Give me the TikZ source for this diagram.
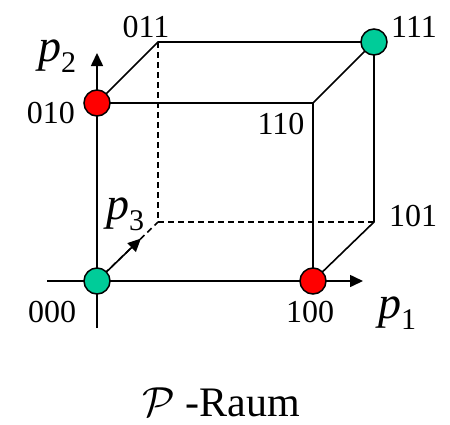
\RequirePackage{fix-cm}
\documentclass[tikz,border=0pt]{standalone}
\usepackage{fontspec}
\setmainfont{Liberation Serif}
\usetikzlibrary{arrows.meta, calc}

\newcommand{\psub}[1]{p\raisebox{-11pt}{\fontsize{30}{30}\selectfont\upshape #1}}

\begin{document}
\begin{tikzpicture}[
    x=1pt, y=-1pt,
    >={Triangle[length=13pt, width=12pt]},
    edge/.style={
        line width=1.6pt,
        draw=black
    },
    hidden/.style={
        edge,
        dash pattern=on 6pt off 4pt
    },
    axis/.style={
        ->,
        line width=1.6pt
    },
    vertex/.style={
        circle,
        draw=black,
        fill=#1,
        line width=1.5pt,
        minimum size=26pt,
        inner sep=0pt
    },
    corner/.style={
        font=\fontsize{32}{32}\selectfont,
        inner sep=0pt,
        anchor=base
    },
    axislabel/.style={
        font=\fontsize{46}{46}\selectfont\itshape,
        inner sep=0pt,
        anchor=base
    }
]

% Colors
\definecolor{green_color}{RGB}{0,204,153}
\definecolor{red_color}{RGB}{255,0,0}

\useasboundingbox (0,0) rectangle (450,424);

% Cube corners
\coordinate (c000) at (97,281);
\coordinate (c100) at (313,281);
\coordinate (c010) at (97,103);
\coordinate (c110) at (313,103);
\coordinate (c001) at (158,222);
\coordinate (c101) at (374,222);
\coordinate (c011) at (158,42);
\coordinate (c111) at (374,42);

% Axes
\coordinate (xstart) at (47,281);
\coordinate (xend) at (363,281);
\coordinate (ystart) at (97,328);
\coordinate (yend) at (97,53);
\coordinate (zend) at ($(c000)!0.72!(c001)$);

% Hidden edges
\draw[hidden] (c011) -- (c001);
\draw[hidden] (c001) -- (c101);
\draw[hidden] (c000) -- (c001);

% Visible edges
\draw[edge] (c010) -- (c110) -- (c100);
\draw[edge] (c010) -- (c011) -- (c111) -- (c101) -- (c100);
\draw[edge] (c110) -- (c111);

\draw[axis] (xstart) -- (xend);
\draw[axis] (ystart) -- (yend);
\draw[axis] (c000) -- (zend);

% Colored corners
\node[vertex=green_color] (v000) at (c000) {};
\node[vertex=red_color] (v100) at (c100) {};
\node[vertex=red_color] (v010) at (c010) {};
\node[vertex=green_color] (v111) at (c111) {};

% Corner labels
\node[corner] (l011) at (146,37) {011};
\node[corner] (l111) at (414,37) {111};
\node[corner] (l010) at (51,123) {010};
\node[corner] (l110) at (281,134) {110};
\node[corner] (l101) at (413,226) {101};
\node[corner] (l100) at (310,322) {100};
\node[corner] (l000) at (52,322) {000};

% Axis labels
\node[axislabel] (p1) at (397,318) {\psub{1}};
\node[axislabel] (p2) at (57,61) {\psub{2}};
\node[axislabel] (p3) at (125,219) {\psub{3}};

% Caption
\node[anchor=base, inner sep=0pt, font=\fontsize{42}{42}\selectfont] (caption) at (221,416) {$\mathcal{P}$ -Raum};

\end{tikzpicture}
\end{document}
